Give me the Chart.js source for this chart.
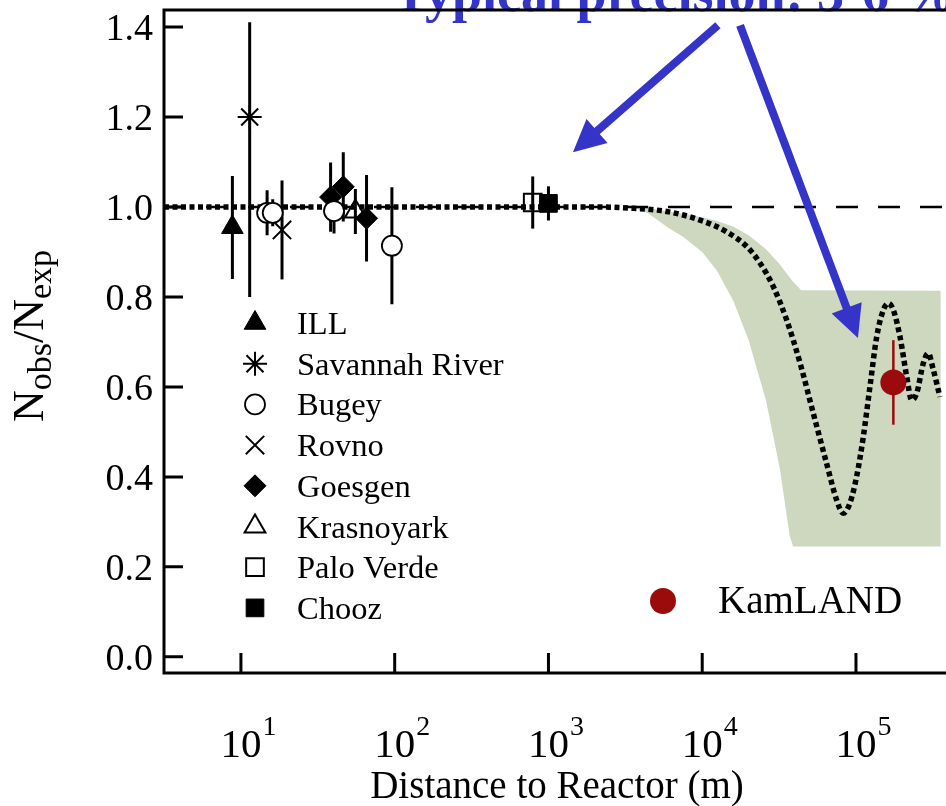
<!DOCTYPE html>
<html>
<head>
<meta charset="utf-8">
<title>Reactor neutrino disappearance</title>
<script src="https://cdn.jsdelivr.net/npm/chart.js@4.4.1/dist/chart.umd.min.js"></script>
<style>
  html, body { margin: 0; padding: 0; background: #fff; }
  #wrap { width: 946px; height: 806px; }
</style>
</head>
<body>
<div id="wrap"><canvas id="ratioChart"></canvas></div>
<script>
// axis ranges and ticks
const xMin = 3.16, xMax = 3.85e5;
const yMin = -0.036, yMax = 1.438;
const yTicks = [0, 0.2, 0.4, 0.6, 0.8, 1.0, 1.2, 1.4];
const xTicks = [1e1, 1e2, 1e3, 1e4, 1e5];
const xTickPowers = ["1", "2", "3", "4", "5"];

// reactor experiments: distance (m), Nobs/Nexp, error below / above
const illDist = [8.8];
const illRatio = [0.955];
const illErrLo = [0.115];
const illErrHi = [0.114];

const savannahDist = [11.4];
const savannahRatio = [1.2];
const savannahErrLo = [0.4];
const savannahErrHi = [0.211];

const bugeyDist = [14.8, 16.1, 40.3, 95.9];
const bugeyRatio = [0.987, 0.987, 0.991, 0.914];
const bugeyErrLo = [0.05, 0.03, 0.05, 0.13];
const bugeyErrHi = [0.05, 0.03, 0.05, 0.13];

const rovnoDist = [18.5];
const rovnoRatio = [0.949];
const rovnoErrLo = [0.11];
const rovnoErrHi = [0.11];

const goesgenDist = [38.3, 46.3, 65.6];
const goesgenRatio = [1.022, 1.045, 0.975];
const goesgenErrLo = [0.077, 0.077, 0.096];
const goesgenErrHi = [0.077, 0.077, 0.096];

const krasnoDist = [55.5];
const krasnoRatio = [0.99];
const krasnoErrLo = [0.05];
const krasnoErrHi = [0.05];

const paloDist = [790];
const paloRatio = [1.01];
const paloErrLo = [0.058];
const paloErrHi = [0.058];

const choozDist = [1000];
const choozRatio = [1.008];
const choozErrLo = [0.038];
const choozErrHi = [0.038];

const kamlandDist = [175000];
const kamlandRatio = [0.61];
const kamlandErrLo = [0.094];
const kamlandErrHi = [0.094];

// allowed region for KamLAND-like baselines
const bandDist = [3500, 4500, 6000, 7500, 10000, 12500, 16000, 20000, 26000, 32000, 37000, 39000, 44000, 356000];
const bandLow = [1.0, 0.985, 0.954, 0.934, 0.9, 0.858, 0.79, 0.705, 0.57, 0.418, 0.27, 0.245, 0.245, 0.245];
const bandHigh = [1.0, 0.998, 0.99, 0.985, 0.977, 0.969, 0.956, 0.937, 0.906, 0.872, 0.844, 0.834, 0.815, 0.814];

// oscillation prediction
const oscDist = [3.16, 2160, 3570, 5880, 9660, 14400, 19500, 23800, 29000, 35400, 43300, 52700,
  64400, 74800, 82600, 91400, 101000, 111700, 123300, 136500, 150700, 162600, 175000,
  193200, 213800, 230100, 248300, 274200, 295100, 318400, 351600];
const oscRatio = [1.0, 1.0, 0.997, 0.99, 0.971, 0.945, 0.912, 0.875, 0.823, 0.749, 0.653, 0.542,
  0.43, 0.349, 0.319, 0.342, 0.401, 0.49, 0.601, 0.712, 0.771, 0.786, 0.771,
  0.712, 0.623, 0.571, 0.586, 0.653, 0.675, 0.638, 0.578];

// annotation arrows (data coordinates)
const arrowTails = [[12650, 1.404], [17620, 1.404]];
const arrowTips = [[1443, 1.122], [103000, 0.709]];

const serif = '"Liberation Serif", "Times New Roman", serif';
const blue = "#3434c8";
const kamRed = "#9c0b0b";

const pts = (xs, ys) => xs.map((v, i) => ({ x: v, y: ys[i] }));

const experiments = [
  { label: "ILL", dist: illDist, ratio: illRatio, lo: illErrLo, hi: illErrHi,
    pointStyle: "triangle", radius: 12.5, bg: "#000", bw: 1 },
  { label: "Savannah River", dist: savannahDist, ratio: savannahRatio, lo: savannahErrLo, hi: savannahErrHi,
    pointStyle: "star", radius: 12, bg: "#000", bw: 2 },
  { label: "Bugey", dist: bugeyDist, ratio: bugeyRatio, lo: bugeyErrLo, hi: bugeyErrHi,
    pointStyle: "circle", radius: 10, bg: "#fff", bw: 1.8 },
  { label: "Rovno", dist: rovnoDist, ratio: rovnoRatio, lo: rovnoErrLo, hi: rovnoErrHi,
    pointStyle: "crossRot", radius: 13, bg: "#000", bw: 2 },
  { label: "Goesgen", dist: goesgenDist, ratio: goesgenRatio, lo: goesgenErrLo, hi: goesgenErrHi,
    pointStyle: "rectRot", radius: 11, bg: "#000", bw: 1 },
  { label: "Krasnoyark", dist: krasnoDist, ratio: krasnoRatio, lo: krasnoErrLo, hi: krasnoErrHi,
    pointStyle: "triangle", radius: 12, bg: "rgba(255,255,255,0)", bw: 2 },
  { label: "Palo Verde", dist: paloDist, ratio: paloRatio, lo: paloErrLo, hi: paloErrHi,
    pointStyle: "rect", radius: 12.5, bg: "rgba(255,255,255,0)", bw: 2 },
  { label: "Chooz", dist: choozDist, ratio: choozRatio, lo: choozErrLo, hi: choozErrHi,
    pointStyle: "rect", radius: 12.5, bg: "#000", bw: 1 },
];

const markerSets = experiments.map((e) => ({
  type: "scatter",
  label: e.label,
  data: pts(e.dist, e.ratio),
  errLo: e.lo,
  errHi: e.hi,
  pointStyle: e.pointStyle,
  pointRadius: e.radius,
  pointBackgroundColor: e.bg,
  pointBorderColor: "#000",
  pointBorderWidth: e.bw,
  order: 0,
}));

markerSets.push({
  type: "scatter",
  label: "KamLAND",
  data: pts(kamlandDist, kamlandRatio),
  errLo: kamlandErrLo,
  errHi: kamlandErrHi,
  barColor: kamRed,
  barWidth: 2.5,
  pointStyle: "circle",
  pointRadius: 13,
  pointBackgroundColor: kamRed,
  pointBorderWidth: 0,
  order: 0,
});

// vertical error bars, drawn just under each marker set
const errorBars = {
  id: "errorBars",
  beforeDatasetDraw(chart, args) {
    const ds = chart.data.datasets[args.index];
    if (!ds.errLo) return;
    const { ctx } = chart;
    const x = chart.scales.x, y = chart.scales.y;
    ctx.save();
    ctx.strokeStyle = ds.barColor || "#000";
    ctx.lineWidth = ds.barWidth || 3;
    ctx.beginPath();
    ds.data.forEach((p, i) => {
      const px = x.getPixelForValue(p.x);
      ctx.moveTo(px, y.getPixelForValue(p.y - ds.errLo[i]));
      ctx.lineTo(px, y.getPixelForValue(p.y + ds.errHi[i]));
    });
    ctx.stroke();
    ctx.restore();
  },
};

// frame, inward ticks, tick labels, titles, legend and arrows
const decorations = {
  id: "decorations",
  afterDraw(chart) {
    const { ctx, chartArea: a } = chart;
    const x = chart.scales.x, y = chart.scales.y;
    ctx.save();

    // heading above the plot
    ctx.fillStyle = blue;
    ctx.font = "bold 54px " + serif;
    ctx.textAlign = "left";
    ctx.textBaseline = "alphabetic";
    ctx.fillText("Typical precision: 3-6 %", 393, 11);

    // arrows
    ctx.strokeStyle = blue;
    ctx.fillStyle = blue;
    arrowTails.forEach((t, i) => {
      const x0 = x.getPixelForValue(t[0]), y0 = y.getPixelForValue(t[1]);
      const x1 = x.getPixelForValue(arrowTips[i][0]), y1 = y.getPixelForValue(arrowTips[i][1]);
      const len = Math.hypot(x1 - x0, y1 - y0);
      const ux = (x1 - x0) / len, uy = (y1 - y0) / len;
      const head = 32, half = 16;
      const bx = x1 - ux * head, by = y1 - uy * head;
      ctx.lineWidth = 8;
      ctx.lineCap = "butt";
      ctx.beginPath();
      ctx.moveTo(x0, y0);
      ctx.lineTo(bx + ux * 2, by + uy * 2);
      ctx.stroke();
      ctx.beginPath();
      ctx.moveTo(x1, y1);
      ctx.lineTo(bx - uy * half, by + ux * half);
      ctx.lineTo(bx + uy * half, by - ux * half);
      ctx.closePath();
      ctx.fill();
    });

    // frame
    ctx.strokeStyle = "#000";
    ctx.lineWidth = 3;
    ctx.lineCap = "square";
    ctx.beginPath();
    ctx.moveTo(a.right + 2, a.top);
    ctx.lineTo(a.left, a.top);
    ctx.lineTo(a.left, a.bottom);
    ctx.lineTo(a.right + 2, a.bottom);
    ctx.stroke();

    // ticks
    ctx.lineCap = "butt";
    ctx.beginPath();
    yTicks.forEach((v) => {
      const py = y.getPixelForValue(v);
      ctx.moveTo(a.left, py);
      ctx.lineTo(a.left + 19, py);
    });
    xTicks.forEach((v) => {
      const px = x.getPixelForValue(v);
      ctx.moveTo(px, a.bottom);
      ctx.lineTo(px, a.bottom - 20);
    });
    ctx.stroke();

    // y tick labels
    ctx.fillStyle = "#000";
    ctx.font = "38px " + serif;
    ctx.textAlign = "right";
    yTicks.forEach((v) => {
      ctx.fillText(v.toFixed(1), a.left - 11, y.getPixelForValue(v) + 13);
    });

    // x tick labels 10^n
    xTicks.forEach((v, i) => {
      const px = x.getPixelForValue(v);
      ctx.font = "41px " + serif;
      ctx.textAlign = "center";
      ctx.fillText("10", px, 757);
      const w = ctx.measureText("10").width;
      ctx.font = "28px " + serif;
      ctx.textAlign = "left";
      ctx.fillText(xTickPowers[i], px + w / 2 + 1, 735);
    });

    // x title
    ctx.font = "39px " + serif;
    ctx.textAlign = "center";
    ctx.fillText("Distance to Reactor (m)", 557, 798);

    // y title: N_obs / N_exp
    ctx.save();
    ctx.translate(43, 336);
    ctx.rotate(-Math.PI / 2);
    const parts = [
      ["N", "44px", 0],
      ["obs", "34px", 8],
      ["/", "44px", 0],
      ["N", "44px", 0],
      ["exp", "34px", 8],
    ];
    let total = 0;
    parts.forEach((p) => {
      ctx.font = p[1] + " " + serif;
      total += ctx.measureText(p[0]).width;
    });
    let cx = -total / 2;
    ctx.textAlign = "left";
    parts.forEach((p) => {
      ctx.font = p[1] + " " + serif;
      ctx.fillText(p[0], cx, p[2]);
      cx += ctx.measureText(p[0]).width;
    });
    ctx.restore();

    // legend of reactor experiments
    experiments.forEach((e, i) => {
      const cy = 323 + i * 40.7;
      ctx.fillStyle = e.bg;
      ctx.strokeStyle = "#000";
      ctx.lineWidth = e.bw;
      Chart.helpers.drawPoint(ctx, {
        pointStyle: e.pointStyle, radius: e.radius, rotation: 0, borderWidth: e.bw,
      }, 255, cy);
      ctx.fillStyle = "#000";
      ctx.font = "32.5px " + serif;
      ctx.textAlign = "left";
      ctx.fillText(e.label, 297, cy + 11);
    });

    // KamLAND legend entry
    ctx.fillStyle = kamRed;
    ctx.beginPath();
    ctx.arc(663, 601, 13, 0, Math.PI * 2);
    ctx.fill();
    ctx.fillStyle = "#000";
    ctx.font = "39px " + serif;
    ctx.fillText("KamLAND", 718, 613);

    ctx.restore();
  },
};

const ctxRatio = document.getElementById("ratioChart").getContext("2d");
const ratioChart = new Chart(ctxRatio, {
  type: "scatter",
  data: {
    datasets: [
      {
        type: "line",
        label: "band low",
        data: pts(bandDist, bandLow),
        borderWidth: 0,
        pointRadius: 0,
        fill: false,
        order: 3,
      },
      {
        type: "line",
        label: "band high",
        data: pts(bandDist, bandHigh),
        borderWidth: 0,
        pointRadius: 0,
        backgroundColor: "#cdd8bf",
        fill: 0,
        order: 3,
      },
      {
        type: "line",
        label: "no oscillation",
        data: pts([xMin, xMax], [1, 1]),
        borderColor: "#000",
        borderWidth: 2.5,
        borderDash: [22, 20],
        pointRadius: 0,
        fill: false,
        order: 2,
      },
      {
        type: "line",
        label: "oscillation",
        data: pts(oscDist, oscRatio),
        borderColor: "#000",
        borderWidth: 5.5,
        borderDash: [5, 3.5],
        borderCapStyle: "butt",
        cubicInterpolationMode: "monotone",
        pointRadius: 0,
        fill: false,
        order: 1,
      },
      ...markerSets,
    ],
  },
  options: {
    responsive: true,
    maintainAspectRatio: false,
    animation: false,
    layout: { autoPadding: false, padding: { top: 10, left: 0, right: 0, bottom: 0 } },
    plugins: {
      legend: { display: false },
      tooltip: { enabled: false },
    },
    scales: {
      x: {
        type: "logarithmic",
        min: xMin,
        max: xMax,
        grid: { display: false },
        border: { display: false },
        ticks: { display: false },
        afterFit: (s) => { s.height = 133; },
      },
      y: {
        min: yMin,
        max: yMax,
        grid: { display: false },
        border: { display: false },
        ticks: { display: false },
        afterFit: (s) => { s.width = 164; },
      },
    },
  },
  plugins: [errorBars, decorations],
});
</script>
</body>
</html>
